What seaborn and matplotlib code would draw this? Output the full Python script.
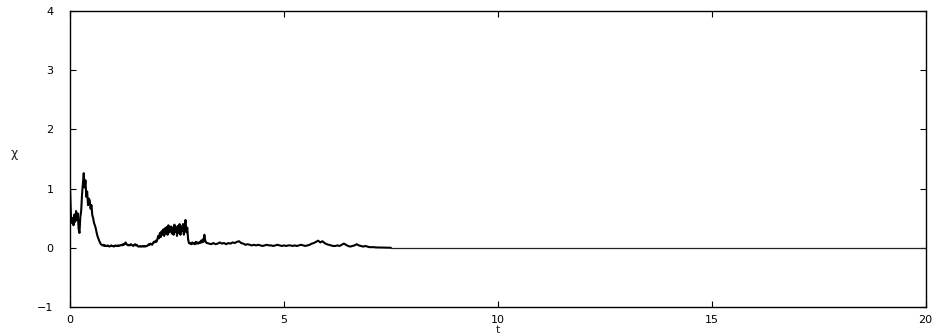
import numpy as np
import pandas as pd
import matplotlib
matplotlib.use("Agg")
import matplotlib.pyplot as plt
import seaborn as sns

# chi(t)
# t = 0.00 .. 3.20, step 0.02
chi_a = [
    1.00, 0.55, 0.42, 0.50, 0.38, 0.56, 0.44, 0.62, 0.47, 0.58,
    0.32, 0.25, 0.52, 0.62, 0.90, 1.08, 1.26, 1.02, 1.14, 0.86,
    0.95, 0.72, 0.83, 0.80, 0.66, 0.72, 0.55, 0.50, 0.42, 0.38,
    0.33, 0.26, 0.20, 0.16, 0.12, 0.09, 0.06, 0.05, 0.04, 0.05,
    0.03, 0.04, 0.03, 0.03, 0.04, 0.03, 0.02, 0.03, 0.04, 0.03,
    0.03, 0.02, 0.03, 0.04, 0.03, 0.03, 0.04, 0.03, 0.04, 0.04,
    0.05, 0.04, 0.06, 0.05, 0.07, 0.09, 0.06, 0.05, 0.04, 0.05,
    0.04, 0.06, 0.05, 0.04, 0.03, 0.05, 0.06, 0.04, 0.05, 0.03,
    0.02, 0.02, 0.03, 0.02, 0.02, 0.03, 0.02, 0.03, 0.02, 0.03,
    0.03, 0.04, 0.06, 0.05, 0.07, 0.06, 0.05, 0.08, 0.10, 0.09,
    0.12, 0.10, 0.14, 0.20, 0.16, 0.25, 0.18, 0.28, 0.22, 0.31,
    0.20, 0.33, 0.24, 0.35, 0.22, 0.38, 0.26, 0.30, 0.36, 0.24,
    0.34, 0.22, 0.39, 0.27, 0.35, 0.20, 0.37, 0.25, 0.40, 0.22,
    0.36, 0.28, 0.40, 0.22, 0.38, 0.47, 0.26, 0.34, 0.14, 0.08,
    0.07, 0.08, 0.06, 0.09, 0.07, 0.08, 0.06, 0.10, 0.07, 0.09,
    0.07, 0.09, 0.08, 0.12, 0.09, 0.14, 0.10, 0.22, 0.12, 0.09,
    0.08,
]

# t = 3.25 .. 7.50, step 0.05
chi_b = [
    0.07, 0.06, 0.08, 0.06, 0.07, 0.09, 0.07, 0.08, 0.06, 0.08,
    0.07, 0.09, 0.08, 0.10, 0.11, 0.08, 0.07, 0.05, 0.06, 0.05,
    0.04, 0.05, 0.04, 0.05, 0.04, 0.03, 0.04, 0.05, 0.04, 0.04,
    0.03, 0.04, 0.05, 0.04, 0.03, 0.04, 0.03, 0.04, 0.04, 0.03,
    0.04, 0.03, 0.04, 0.05, 0.04, 0.03, 0.04, 0.05, 0.07, 0.08,
    0.10, 0.12, 0.09, 0.11, 0.08, 0.06, 0.05, 0.04, 0.03, 0.03,
    0.04, 0.03, 0.05, 0.07, 0.05, 0.03, 0.02, 0.03, 0.04, 0.06,
    0.04, 0.03, 0.02, 0.03, 0.02, 0.01, 0.01, 0.01, 0.005, 0.005,
    0.004, 0.003, 0.002, 0.001, 0.0, 0.0,
]

# flat tail
t_tail = [7.5, 8.0, 10.0, 15.0, 20.0]
chi_tail = [0.0, 0.0, 0.0, 0.0, 0.0]

t_a = np.arange(len(chi_a)) * 0.02
t_b = 3.25 + np.arange(len(chi_b)) * 0.05

df_noisy = pd.DataFrame({
    "t": np.concatenate([t_a, t_b]),
    "chi": np.concatenate([chi_a, chi_b]),
})
df_tail = pd.DataFrame({"t": t_tail, "chi": chi_tail})

sns.set_style("ticks")
plt.rcParams["font.family"] = ["DejaVu Sans"]

fig = plt.figure(figsize=(9.34, 3.34), dpi=100)
ax = fig.add_axes([0.075, 0.081, 0.916, 0.886])

sns.lineplot(data=df_noisy, x="t", y="chi", ax=ax, color="black", linewidth=1.5,
             estimator=None, sort=False)
sns.lineplot(data=df_tail, x="t", y="chi", ax=ax, color="#222222", linewidth=0.9,
             estimator=None, sort=False)

ax.set_xlim(0, 20)
ax.set_ylim(-1, 4)
ax.set_xticks([0, 5, 10, 15, 20])
ax.set_yticks([-1, 0, 1, 2, 3, 4])
ax.tick_params(direction="in", length=4, width=0.8, labelsize=8,
               top=True, right=True, colors="black")
ax.tick_params(axis="y", pad=12)
ax.tick_params(axis="x", pad=6)
for s in ax.spines.values():
    s.set_linewidth(1.0)
    s.set_color("black")

ax.set_xlabel("t", fontsize=8, labelpad=0)
ax.set_ylabel("χ", fontsize=9, labelpad=16, rotation=0, va="center")
ax.yaxis.set_label_coords(-0.065, 0.52)

fig.savefig("out.png", dpi=100)
